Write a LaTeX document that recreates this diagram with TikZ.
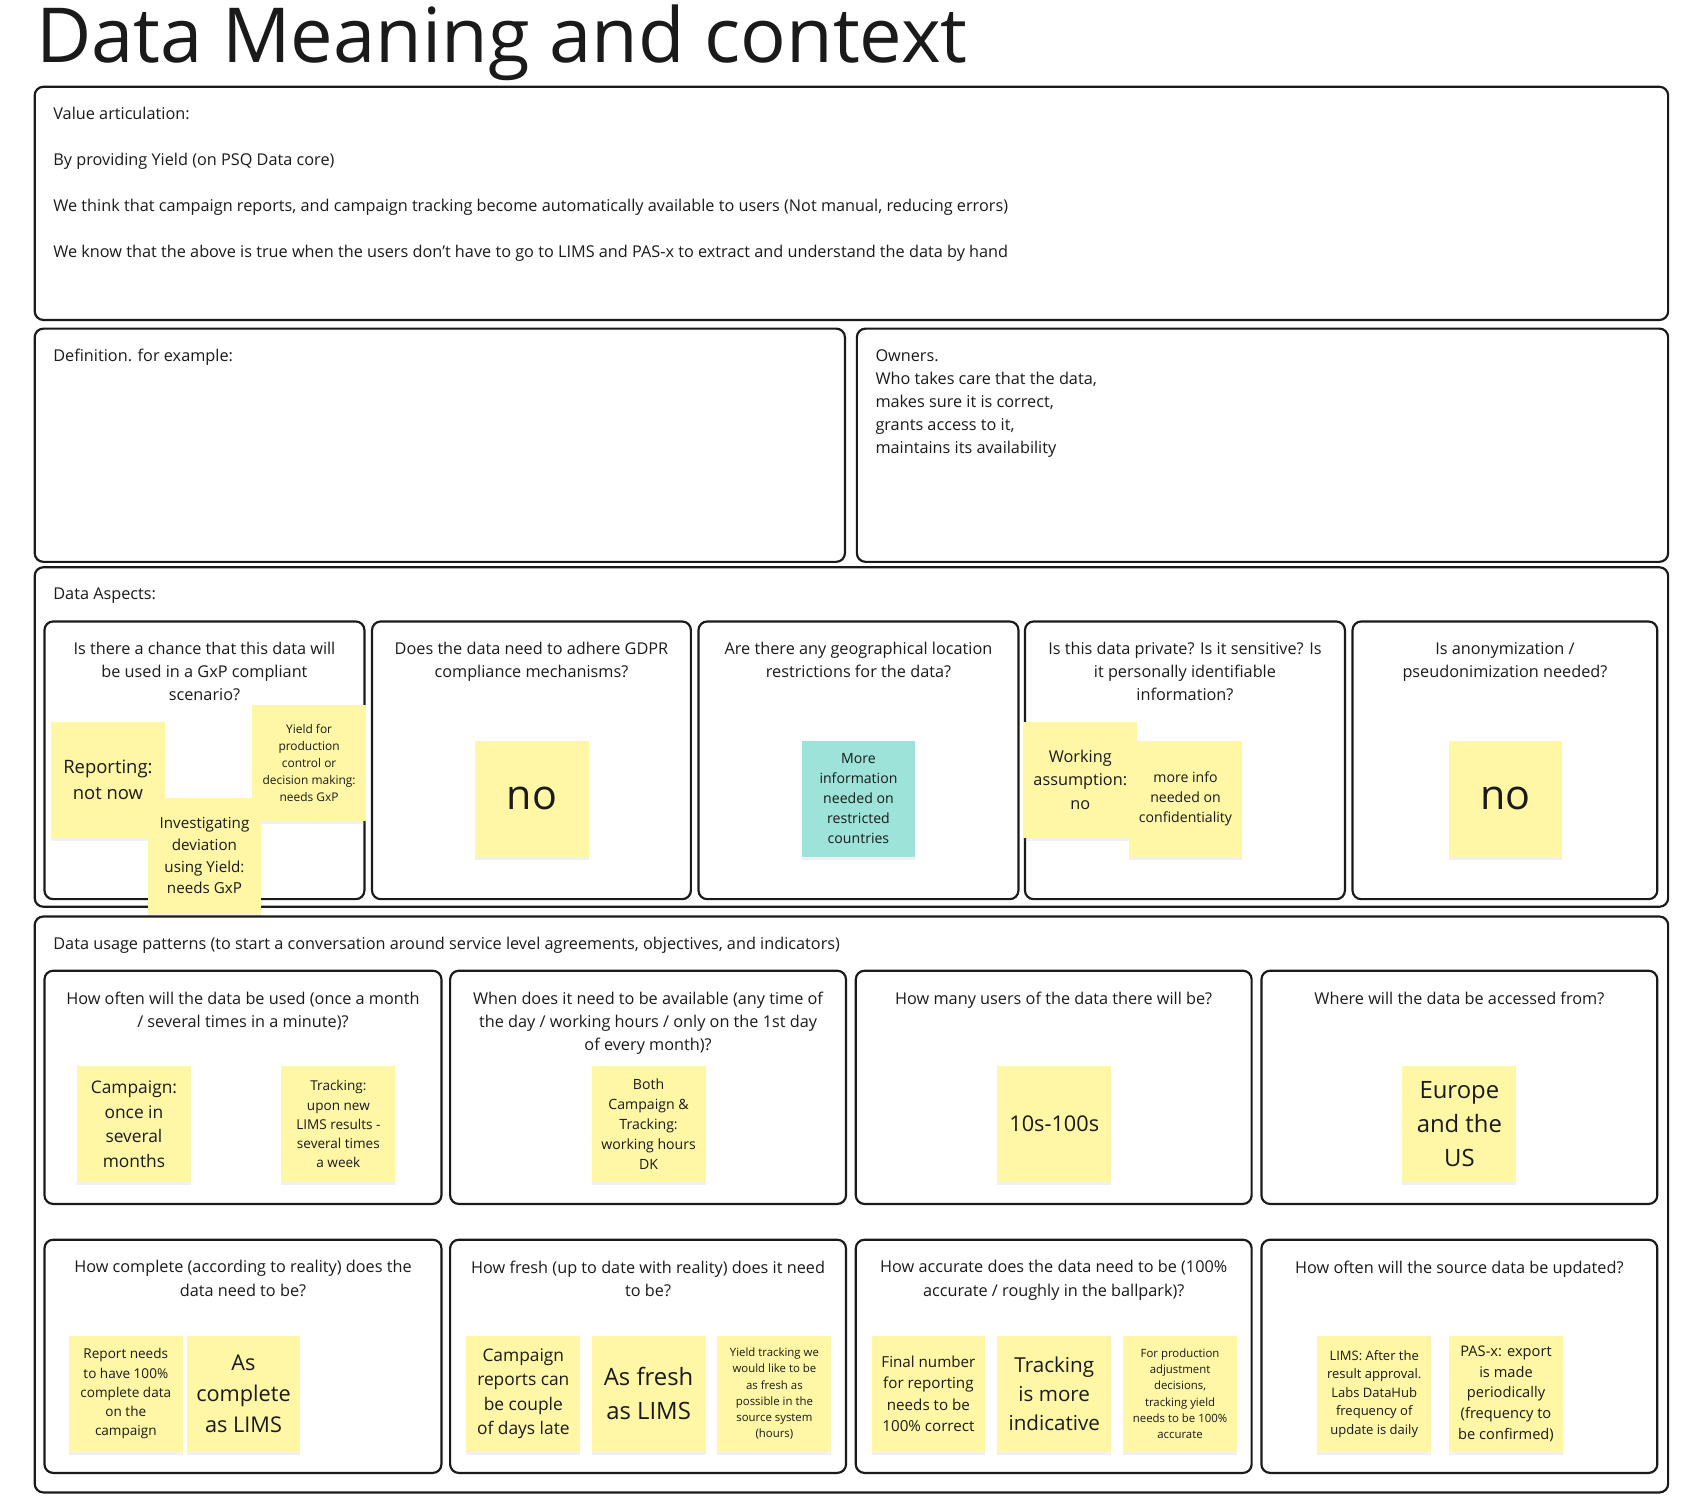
\documentclass[tikz,border=0pt]{standalone}
\usepackage{fontspec}
\setmainfont{Open Sans}
\usetikzlibrary{shadows}
\definecolor{sticky}{HTML}{FFF6A6}
\definecolor{teal}{HTML}{9DE3DA}
\definecolor{ink}{HTML}{1A1A1A}
\newcommand{\fsz}[1]{\fontsize{#1}{\fpeval{#1*1.42}}\selectfont}
\tikzset{
  frame/.style={draw=ink, line width=2pt, rounded corners=8pt},
  card/.style={draw=ink, line width=2pt, rounded corners=8pt},
  qtext/.style={anchor=north, align=center, font=\fsz{15}, text=ink, inner sep=0pt},
  btext/.style={anchor=north west, align=left, font=\fsz{15}, text=ink, inner sep=0pt},
  note/.style={fill=#1, minimum width=105pt, minimum height=107pt, inner sep=2pt, align=center, text=ink,
     drop shadow={opacity=0.12, shadow xshift=0pt, shadow yshift=-3pt}},
  note/.default=sticky
}
\begin{document}
\begin{tikzpicture}[x=1pt,y=-1pt]
\useasboundingbox (0,0) rectangle (1560,1394);
\node[anchor=base west, font=\fontsize{70}{80}\selectfont, text=ink, inner sep=0pt] (title) at (33,58) {Data Meaning and context};

% value articulation
\draw[frame] (32,80) rectangle (1538,295);
\node[btext] (va) at (49,99) {Value articulation:\\[21pt]By providing Yield (on PSQ Data core)\\[21pt]We think that campaign reports, and campaign tracking become automatically available to users (Not manual, reducing errors)\\[21pt]We know that the above is true when the users don't have to go to LIMS and PAS-x to extract and understand the data by hand};

\draw[frame] (32,303) rectangle (779,518);
\node[btext] (def) at (49,322) {Definition. for example:};
\draw[frame] (790,303) rectangle (1538,518);
\node[btext] (own) at (807,322) {Owners.\\Who takes care that the data,\\makes sure it is correct,\\grants access to it,\\maintains its availability};

% data aspects
\draw[frame] (32,523) rectangle (1538,836);
\node[btext] (da) at (49,542) {Data Aspects:};
\draw[card] (41,573) rectangle (336,829);
\draw[card] (343,573) rectangle (637,829);
\draw[card] (644,573) rectangle (939,829);
\draw[card] (945,573) rectangle (1240,829);
\draw[card] (1247,573) rectangle (1528,829);
\node[qtext] (q1) at (188.5,592) {Is there a chance that this data will\\be used in a GxP compliant\\scenario?};
\node[qtext] (q2) at (490,592) {Does the data need to adhere GDPR\\compliance mechanisms?};
\node[qtext] (q3) at (791.5,592) {Are there any geographical location\\restrictions for the data?};
\node[qtext] (q4) at (1092.5,592) {Is this data private? Is it sensitive? Is\\it personally identifiable\\information?};
\node[qtext] (q5) at (1387.5,592) {Is anonymization /\\pseudonimization needed?};

\node[note, font=\fsz{17}] (s1) at (99.5,719) {Reporting:\\not now};
\node[note, font=\fsz{11}] (s2) at (285,703.5) {Yield for\\production\\control or\\decision making:\\needs GxP};
\node[note, font=\fsz{14}] (s3) at (188.5,789) {Investigating\\deviation\\using Yield:\\needs GxP};
\node[note, font=\fsz{38}] (s4) at (490.5,736.5) {no};
\node[note=teal, font=\fsz{13}] (s5) at (791.5,736.5) {More\\information\\needed on\\restricted\\countries};
\node[note, font=\fsz{15}] (s6) at (996,719) {Working\\assumption:\\no};
\node[note, font=\fsz{13}] (s7) at (1093,736.5) {more info\\needed on\\confidentiality};
\node[note, font=\fsz{38}] (s8) at (1388,736.5) {no};

% usage patterns
\draw[frame] (32,845) rectangle (1538,1376);
\node[btext] (up) at (49,864) {Data usage patterns (to start a conversation around service level agreements, objectives, and indicators)};
\foreach \y in {895,1143}{
  \draw[card] (41,\y) rectangle (407,\y+215);
  \draw[card] (415,\y) rectangle (780,\y+215);
  \draw[card] (789,\y) rectangle (1154,\y+215);
  \draw[card] (1163,\y) rectangle (1528,\y+215);
}
\node[qtext] (r1) at (224,914) {How often will the data be used (once a month\\/ several times in a minute)?};
\node[qtext] (r2) at (597.5,914) {When does it need to be available (any time of\\the day / working hours / only on the 1st day\\of every month)?};
\node[qtext] (r3) at (971.5,914) {How many users of the data there will be?};
\node[qtext] (r4) at (1345.5,914) {Where will the data be accessed from?};
\node[qtext] (r5) at (224,1162) {How complete (according to reality) does the\\data need to be?};
\node[qtext] (r6) at (597.5,1162) {How fresh (up to date with reality) does it need\\to be?};
\node[qtext] (r7) at (971.5,1162) {How accurate does the data need to be (100\%\\accurate / roughly in the ballpark)?};
\node[qtext] (r8) at (1345.5,1162) {How often will the source data be updated?};

\node[note, font=\fsz{16}] (t1) at (123.5,1036.5) {Campaign:\\once in\\several\\months};
\node[note, font=\fsz{12.5}] (t2) at (312,1036.5) {Tracking:\\upon new\\LIMS results -\\several times\\a week};
\node[note, font=\fsz{13}] (t3) at (598,1036.5) {Both\\Campaign \&\\Tracking:\\working hours\\DK};
\node[note, font=\fsz{20}] (t4) at (972,1036.5) {10s-100s};
\node[note, font=\fsz{22}] (t5) at (1345.5,1036.5) {Europe\\and the\\US};

\node[note, font=\fsz{12.5}] (u1) at (116,1285) {Report needs\\to have 100\%\\complete data\\on the\\campaign};
\node[note, font=\fsz{20}] (u2) at (224.5,1285) {As\\complete\\as LIMS};
\node[note, font=\fsz{16}] (u3) at (482.5,1285) {Campaign\\reports can\\be couple\\of days late};
\node[note, font=\fsz{22}] (u4) at (598,1285) {As fresh\\as LIMS};
\node[note, font=\fsz{10.5}] (u5) at (714,1285) {Yield tracking we\\would like to be\\as fresh as\\possible in the\\source system\\(hours)};
\node[note, font=\fsz{14}] (u6) at (856,1285) {Final number\\for reporting\\needs to be\\100\% correct};
\node[note, font=\fsz{19}] (u7) at (972,1285) {Tracking\\is more\\indicative};
\node[note, font=\fsz{10.5}] (u8) at (1088,1285) {For production\\adjustment\\decisions,\\tracking yield\\needs to be 100\%\\accurate};
\node[note, font=\fsz{12}] (u9) at (1267,1285) {LIMS: After the\\result approval.\\Labs DataHub\\frequency of\\update is daily};
\node[note, font=\fsz{13.5}] (u10) at (1388.5,1285) {PAS-x: export\\is made\\periodically\\(frequency to\\be confirmed)};
\end{tikzpicture}
\end{document}
